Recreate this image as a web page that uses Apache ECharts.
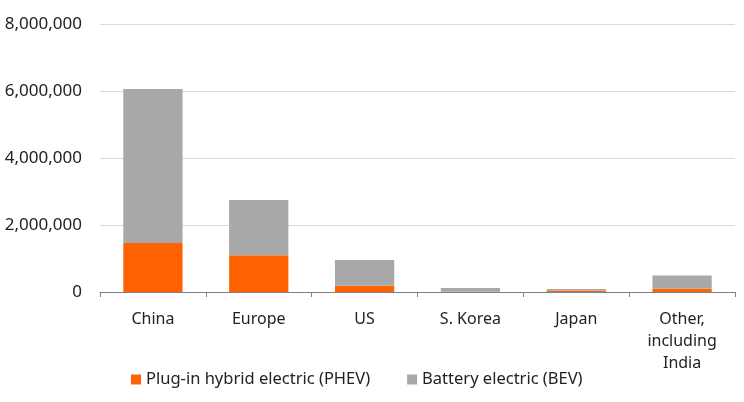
<!DOCTYPE html>
<html>
<head>
<meta charset="utf-8">
<script src="https://cdn.jsdelivr.net/npm/echarts@6/dist/echarts.min.js"></script>
<style>
  html, body { margin: 0; padding: 0; background: #fff; }
  #main { width: 744px; height: 402px; }
</style>
</head>
<body>
<div id="main"></div>
<script>
// 数据
var regions = ['China', 'Europe', 'US', 'S. Korea', 'Japan', 'Other,\nincluding\nIndia'];
var phev = [1460000, 1100000, 190000, 10000, 40000, 100000];
var bev = [4600000, 1650000, 765000, 110000, 50000, 390000];
var yTicks = [0, 2000000, 4000000, 6000000, 8000000];

var font = '"Noto Sans", Lato, sans-serif';
var myChart = echarts.init(document.getElementById('main'));

var option = {
    animation: false,
    textStyle: { fontFamily: font },
    grid: { left: 100, right: 9, top: 24, bottom: 110 },
    legend: {
        left: 126,
        top: 366,
        itemWidth: 10,
        itemHeight: 10,
        itemGap: 37,
        icon: 'rect',
        textStyle: { fontSize: 16.5, color: '#222', fontFamily: font },
        data: ['Plug-in hybrid electric (PHEV)', 'Battery electric (BEV)']
    },
    xAxis: {
        type: 'category',
        data: regions,
        axisLine: { lineStyle: { color: '#808080', width: 1 } },
        axisTick: { show: true, length: 5, lineStyle: { color: '#808080' } },
        axisLabel: { fontSize: 16, color: '#222', margin: 16, lineHeight: 22, fontFamily: font }
    },
    yAxis: {
        type: 'value',
        min: yTicks[0],
        max: yTicks[yTicks.length - 1],
        interval: 2000000,
        axisLine: { show: false },
        axisTick: { show: false },
        splitLine: { lineStyle: { color: '#d9d9d9' } },
        axisLabel: {
            fontSize: 17, color: '#222', margin: 18, fontFamily: font,
            formatter: function (v) { return v.toLocaleString('en-US'); }
        }
    },
    series: [
        {
            name: 'Plug-in hybrid electric (PHEV)',
            type: 'bar',
            stack: 'ev',
            barWidth: '56%',
            itemStyle: { color: '#ff6200' },
            data: phev
        },
        {
            name: 'Battery electric (BEV)',
            type: 'bar',
            stack: 'ev',
            barWidth: '56%',
            itemStyle: { color: '#a8a8a8' },
            data: bev
        }
    ]
};

myChart.setOption(option);
</script>
</body>
</html>
